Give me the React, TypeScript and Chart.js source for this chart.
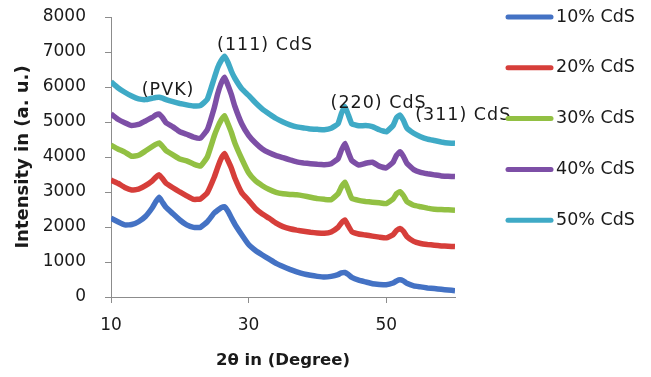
import React, { useEffect, useRef } from 'react';
import { Chart, registerables } from 'chart.js';

Chart.register(...registerables);

// 2θ positions (degrees)
const angles = [10, 11, 12, 13, 14, 15, 16, 16.5, 17, 17.5, 18, 19, 20, 21, 22, 23, 24, 25, 25.5, 26, 26.5, 27, 27.5, 28, 29, 30, 31, 32, 33, 34, 35, 36, 37, 38, 39, 40, 41, 42, 43, 43.5, 44, 44.5, 45, 46, 47, 48, 49, 50, 51, 51.5, 52, 52.5, 53, 54, 55, 56, 57, 58, 59, 60];

const cds10 = [2250, 2150, 2060, 2070, 2150, 2300, 2550, 2720, 2850, 2700, 2560, 2380, 2200, 2060, 1990, 1990, 2150, 2400, 2480, 2550, 2580, 2450, 2260, 2080, 1780, 1500, 1330, 1200, 1080, 960, 870, 790, 720, 660, 620, 590, 570, 590, 640, 690, 700, 640, 560, 480, 430, 380, 360, 350, 400, 460, 490, 460, 390, 320, 290, 260, 240, 220, 200, 180];
const cds20 = [3340, 3250, 3130, 3060, 3080, 3180, 3320, 3420, 3490, 3380, 3250, 3120, 3000, 2890, 2790, 2800, 2980, 3420, 3700, 3950, 4100, 3900, 3680, 3400, 2980, 2760, 2530, 2370, 2250, 2110, 2010, 1950, 1910, 1880, 1850, 1830, 1820, 1860, 1990, 2120, 2200, 2030, 1870, 1800, 1770, 1740, 1710, 1690, 1780, 1900, 1960, 1880, 1730, 1590, 1530, 1500, 1480, 1460, 1450, 1440];
const cds30 = [4340, 4230, 4140, 4020, 4050, 4170, 4300, 4360, 4400, 4300, 4180, 4060, 3940, 3890, 3800, 3740, 4000, 4600, 4850, 5050, 5180, 4950, 4700, 4400, 3950, 3550, 3320, 3180, 3070, 2990, 2950, 2930, 2920, 2890, 2850, 2810, 2790, 2780, 2950, 3150, 3280, 3050, 2820, 2760, 2730, 2710, 2690, 2670, 2800, 2950, 3010, 2900, 2730, 2620, 2580, 2540, 2510, 2500, 2490, 2480];
const cds40 = [5230, 5080, 4980, 4900, 4930, 5030, 5130, 5200, 5230, 5120, 4980, 4860, 4720, 4650, 4570, 4540, 4780, 5400, 5800, 6100, 6280, 6050, 5780, 5450, 4950, 4620, 4400, 4230, 4120, 4040, 3980, 3920, 3860, 3830, 3810, 3790, 3780, 3810, 3950, 4200, 4390, 4130, 3900, 3770, 3820, 3850, 3740, 3690, 3850, 4050, 4150, 4020, 3820, 3640, 3560, 3520, 3490, 3460, 3450, 3440];
const cds50 = [6150, 5980, 5850, 5740, 5660, 5640, 5680, 5700, 5710, 5680, 5640, 5580, 5530, 5490, 5460, 5470, 5650, 6250, 6550, 6750, 6880, 6700, 6450, 6250, 5950, 5760, 5550, 5370, 5230, 5100, 5000, 4920, 4860, 4830, 4800, 4790, 4780, 4820, 4950, 5250, 5440, 5200, 4950, 4890, 4900, 4870, 4780, 4720, 4900, 5120, 5200, 5050, 4830, 4680, 4580, 4510, 4470, 4430, 4400, 4390];

const seriesLabels = ['10% CdS', '20% CdS', '30% CdS', '40% CdS', '50% CdS'];
const seriesColors = ['#4472C4', '#D63E3A', '#92C043', '#7D4FA6', '#3FAAC6'];

const xTickValues = [10, 30, 50];
const yTickValues = [0, 1000, 2000, 3000, 4000, 5000, 6000, 7000, 8000];

const peakLabels = ['(PVK)', '(111) CdS', '(220) CdS', '(311) CdS'];
const peakLabelX = [18.3, 32.4, 48.9, 61.2];
const peakLabelY = [5914, 7200, 5543, 5200];

const FONT = '"DejaVu Sans", sans-serif';
const TEXT = '#1a1a1a';
const AXIS = '#8c8c8c';

const sideLegend = {
  id: 'sideLegend',
  afterDraw(chart: any) {
    const ctx = chart.ctx;
    ctx.save();
    chart.data.datasets.forEach((ds: any, i: number) => {
      const y = 17 + i * 50.8;
      ctx.strokeStyle = ds.borderColor;
      ctx.lineWidth = 5;
      ctx.lineCap = 'round';
      ctx.beginPath();
      ctx.moveTo(508, y);
      ctx.lineTo(551, y);
      ctx.stroke();
      ctx.fillStyle = TEXT;
      ctx.font = '17.5px ' + FONT;
      ctx.textAlign = 'left';
      ctx.textBaseline = 'middle';
      ctx.fillText(ds.label, 556, y);
    });
    ctx.restore();
  },
};

const peakText = {
  id: 'peakText',
  afterDatasetsDraw(chart: any) {
    const ctx = chart.ctx;
    const xs = chart.scales.x;
    const ys = chart.scales.y;
    ctx.save();
    ctx.fillStyle = TEXT;
    ctx.font = '17.5px ' + FONT;
    try { (ctx as any).letterSpacing = '1px'; } catch (e) { /* ignore */ }
    ctx.textAlign = 'center';
    ctx.textBaseline = 'middle';
    peakLabels.forEach((t, i) => {
      ctx.fillText(t, xs.getPixelForValue(peakLabelX[i]), ys.getPixelForValue(peakLabelY[i]));
    });
    ctx.restore();
  },
};

export default function App() {
  const ref = useRef<HTMLCanvasElement>(null);
  useEffect(() => {
    const series = [cds10, cds20, cds30, cds40, cds50];
    const chart = new Chart(ref.current as HTMLCanvasElement, {
      type: 'line',
      data: {
        datasets: series.map((s, k) => ({
          label: seriesLabels[k],
          data: angles.map((a, i) => ({ x: a, y: s[i] })),
          borderColor: seriesColors[k],
          backgroundColor: seriesColors[k],
          borderWidth: 5.5,
          pointRadius: 0,
          tension: 0.12,
          fill: false,
        })),
      },
      options: {
        responsive: false,
        animation: false,
        layout: { padding: { top: 17, right: 196, left: 0, bottom: 0 } },
        plugins: { legend: { display: false }, tooltip: { enabled: false } },
        scales: {
          x: {
            type: 'linear',
            min: 10,
            max: 60,
            afterBuildTicks: (s: any) => { s.ticks = xTickValues.map((v) => ({ value: v })); },
            afterFit: (s: any) => { s.height = 80; s.paddingLeft = 0; s.paddingRight = 0; },
            grid: { drawOnChartArea: false, drawTicks: true, tickLength: 6, color: AXIS },
            border: { display: true, color: AXIS, width: 1 },
            ticks: { font: { family: FONT, size: 17 }, color: TEXT, padding: 12, maxRotation: 0, callback: (v: any) => String(v) },
            title: { display: true, text: '2θ in (Degree)', font: { family: FONT, size: 16.5, weight: 'bold' }, color: TEXT, padding: { top: 0, bottom: 6 } },
          },
          y: {
            type: 'linear',
            min: 0,
            max: 8000,
            afterBuildTicks: (s: any) => { s.ticks = yTickValues.map((v) => ({ value: v })); },
            afterFit: (s: any) => { s.width = 111; s.paddingTop = 0; s.paddingBottom = 0; },
            grid: { drawOnChartArea: false, drawTicks: true, tickLength: 6, color: AXIS },
            border: { display: true, color: AXIS, width: 1 },
            ticks: { font: { family: FONT, size: 17 }, color: TEXT, padding: 19, callback: (v: any) => String(v) },
            title: { display: true, text: 'Intensity in (a. u.)', font: { family: FONT, size: 18, weight: 'bold' }, color: TEXT, padding: { top: 13, bottom: 0 } },
          },
        },
      },
      plugins: [sideLegend, peakText],
    } as any);
    return () => chart.destroy();
  }, []);
  return (
    <div style={{ position: 'fixed', left: 0, top: 0, width: 651, height: 377, background: '#fff' }}>
      <canvas ref={ref} width={651} height={377} />
    </div>
  );
}
